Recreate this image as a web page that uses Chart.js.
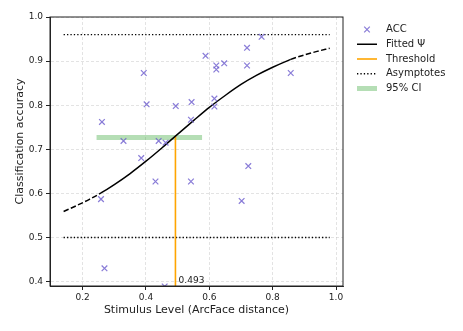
<!DOCTYPE html>
<html>
<head>
<meta charset="utf-8">
<script src="https://cdn.jsdelivr.net/npm/chart.js@4.4.1/dist/chart.umd.min.js"></script>
<style>
  html, body { margin: 0; padding: 0; background: #fff; }
  #wrap { width: 463px; height: 331px; }
</style>
</head>
<body>
<div id="wrap"><canvas id="chartId" width="463" height="331"></canvas></div>
<script>
// observed accuracy per stimulus level
const accX = [0.261, 0.329, 0.393, 0.402, 0.440, 0.462, 0.494, 0.542, 0.544, 0.588,
              0.616, 0.616, 0.622, 0.622, 0.647, 0.719, 0.719, 0.765, 0.857, 0.385,
              0.430, 0.542, 0.258, 0.723, 0.702, 0.269, 0.459];
const accY = [0.762, 0.719, 0.873, 0.802, 0.719, 0.715, 0.798, 0.767, 0.807, 0.912,
              0.815, 0.797, 0.890, 0.881, 0.895, 0.930, 0.890, 0.955, 0.873, 0.680,
              0.627, 0.627, 0.587, 0.662, 0.583, 0.430, 0.389];

// fitted psychometric curve
const curveX = [0.14, 0.18, 0.22, 0.258, 0.30, 0.35, 0.40, 0.45, 0.493, 0.55,
                0.60, 0.65, 0.70, 0.75, 0.80, 0.857, 0.90, 0.94, 0.98];
const curveY = [0.559, 0.572, 0.586, 0.601, 0.620, 0.645, 0.673, 0.703, 0.730, 0.765,
                0.795, 0.822, 0.847, 0.868, 0.886, 0.904, 0.914, 0.922, 0.929];
const solidFrom = 0.258;   // curve is solid over the data range
const solidTo = 0.857;

const asymptotes = [0.5, 0.96];
const threshold = 0.493;
const thresholdAcc = 0.73;
const ciRange = [0.244, 0.577];
const ciAcc = 0.727;

const xTicks = [0.2, 0.4, 0.6, 0.8, 1.0];
const yTicks = [0.4, 0.5, 0.6, 0.7, 0.8, 0.9, 1.0];
const xLimits = [0.097, 1.022];
const yLimits = [0.39, 1.0];

Chart.defaults.font.family = "'DejaVu Sans', sans-serif";
Chart.defaults.color = '#222';

const DARK = '#222';
const GRID = 'rgba(176,176,176,0.45)';

const datasets = [
  {
    label: 'ACC',
    type: 'scatter',
    data: accX.map((x, i) => ({x: x, y: accY[i]})),
    pointStyle: 'crossRot',
    pointRadius: 4,
    pointBorderWidth: 1.2,
    borderColor: 'rgba(106,90,205,0.8)',
    backgroundColor: 'rgba(106,90,205,0.8)',
    order: 0
  },
  {
    label: 'Fitted \u03A8',
    type: 'line',
    data: curveX.map((x, i) => ({x: x, y: curveY[i]})),
    borderColor: '#000',
    borderWidth: 1.5,
    pointRadius: 0,
    cubicInterpolationMode: 'monotone',
    segment: {
      borderDash: ctx => (ctx.p1.parsed.x <= solidFrom || ctx.p0.parsed.x >= solidTo) ? [5.5, 2.4] : undefined
    },
    order: 1
  },
  {
    label: 'Threshold',
    type: 'line',
    data: [{x: threshold, y: yLimits[0]}, {x: threshold, y: thresholdAcc}],
    borderColor: 'orange',
    borderWidth: 1.6,
    pointRadius: 0,
    order: 2
  },
  {
    label: 'Asymptotes',
    type: 'line',
    data: [{x: curveX[0], y: asymptotes[0]}, {x: curveX[curveX.length - 1], y: asymptotes[0]}],
    borderColor: '#000',
    borderWidth: 1.3,
    borderDash: [1.3, 2.1],
    pointRadius: 0,
    order: 3
  },
  {
    label: '',
    type: 'line',
    data: [{x: curveX[0], y: asymptotes[1]}, {x: curveX[curveX.length - 1], y: asymptotes[1]}],
    borderColor: '#000',
    borderWidth: 1.3,
    borderDash: [1.3, 2.1],
    pointRadius: 0,
    order: 3
  },
  {
    label: '95% CI',
    type: 'line',
    data: [{x: ciRange[0], y: ciAcc}, {x: ciRange[1], y: ciAcc}],
    borderColor: 'rgba(44,160,44,0.35)',
    borderWidth: 5,
    borderCapStyle: 'butt',
    pointRadius: 0,
    order: 4
  }
];

// box around the plot, y title, threshold value and the legend on the right
const extras = {
  id: 'extras',
  afterDraw(chart) {
    const {ctx, chartArea: a, scales} = chart;
    ctx.save();
    ctx.strokeStyle = DARK;
    ctx.lineWidth = 1;
    ctx.setLineDash([]);
    ctx.strokeRect(a.left, a.top, a.right - a.left, a.bottom - a.top);

    ctx.fillStyle = DARK;
    ctx.save();
    ctx.translate(20.5, 141.5);
    ctx.rotate(-Math.PI / 2);
    ctx.font = "11px 'DejaVu Sans'";
    ctx.textAlign = 'center';
    ctx.textBaseline = 'middle';
    ctx.fillText('Classification accuracy', 0, 0);
    ctx.restore();

    ctx.font = "9px 'DejaVu Sans'";
    ctx.textBaseline = 'bottom';
    ctx.textAlign = 'left';
    ctx.fillText(threshold.toFixed(3),
      scales.x.getPixelForValue(threshold + 0.01),
      scales.y.getPixelForValue(yLimits[0] + 0.003));

    // legend
    let y = 29.5;
    const x0 = 357, x1 = 377, tx = 386;
    ctx.font = "10px 'DejaVu Sans'";
    ctx.textBaseline = 'middle';
    chart.data.datasets.forEach(ds => {
      if (!ds.label) return;
      ctx.save();
      ctx.strokeStyle = ds.borderColor;
      ctx.lineWidth = ds.type === 'scatter' ? ds.pointBorderWidth : ds.borderWidth;
      if (ds.type === 'scatter') {
        const r = 2.8;
        const cx = (x0 + x1) / 2;
        ctx.beginPath();
        ctx.moveTo(cx - r, y - r); ctx.lineTo(cx + r, y + r);
        ctx.moveTo(cx - r, y + r); ctx.lineTo(cx + r, y - r);
        ctx.stroke();
      } else {
        ctx.setLineDash(ds.borderDash || []);
        ctx.beginPath();
        ctx.moveTo(x0, y); ctx.lineTo(x1, y);
        ctx.stroke();
      }
      ctx.restore();
      ctx.fillStyle = DARK;
      ctx.fillText(ds.label, tx, y);
      y += 14.75;
    });
    ctx.restore();
  }
};

new Chart(document.getElementById('chartId').getContext('2d'), {
  data: {datasets: datasets},
  options: {
    responsive: false,
    animation: false,
    layout: {padding: {left: 0, right: 120, top: 17, bottom: 0}},
    plugins: {legend: {display: false}, tooltip: {enabled: false}},
    scales: {
      x: {
        type: 'linear',
        min: xLimits[0],
        max: xLimits[1],
        afterBuildTicks: s => { s.ticks = xTicks.map(v => ({value: v})); },
        afterFit: s => { s.height = 45; },
        ticks: {font: {size: 9}, color: DARK, padding: 2, callback: v => v.toFixed(1)},
        grid: {color: GRID, lineWidth: 0.8, tickLength: 4, tickColor: DARK, tickWidth: 1},
        border: {color: DARK, width: 1, dash: [3, 2]},
        title: {display: true, text: 'Stimulus Level (ArcFace distance)', font: {size: 11}, color: DARK, padding: {top: 0, bottom: 14}}
      },
      y: {
        type: 'linear',
        min: yLimits[0],
        max: yLimits[1],
        afterBuildTicks: s => { s.ticks = yTicks.map(v => ({value: v})); },
        afterFit: s => { s.width = 50; },
        ticks: {font: {size: 9}, color: DARK, padding: 3, callback: v => v.toFixed(1)},
        grid: {color: GRID, lineWidth: 0.8, tickLength: 4, tickColor: DARK, tickWidth: 1},
        border: {color: DARK, width: 1, dash: [3, 2]},
        title: {display: false}
      }
    }
  },
  plugins: [extras]
});
</script>
</body>
</html>
